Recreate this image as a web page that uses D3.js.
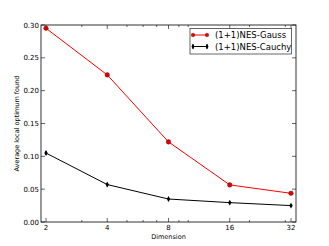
<!DOCTYPE html>
<html><head><meta charset="utf-8">
<script src="https://cdn.jsdelivr.net/npm/d3@7"></script>
<style>body{margin:0;background:#fff}svg{display:block;font-family:"DejaVu Sans",sans-serif}</style>
</head><body><svg id="c" width="329" height="246"></svg>
<script>
const dims = [2, 4, 8, 16, 32];
const gauss = [0.295, 0.224, 0.122, 0.0565, 0.0437];
const cauchy = [0.105, 0.057, 0.035, 0.0295, 0.025];
const cauchyErr = [0.003, 0.003, 0.002, 0.002, 0.002];
const yTicks = [0, 0.05, 0.10, 0.15, 0.20, 0.25, 0.30];
const xMinor = [3, 5, 6, 7, 9, 10, 20, 30];
const seriesNames = ["(1+1)NES-Gauss", "(1+1)NES-Cauchy"];

const L = 41, R = 296, T = 25, B = 222;
const pad = 5 / 61.25;
const x = d3.scaleLog().base(2).domain([Math.pow(2, 1 - pad), Math.pow(2, 5 + pad)]).range([L, R]);
const y = d3.scaleLinear().domain([0, 0.30]).range([B, T]);
const svg = d3.select("#c");

// ticks (inside, both sides)
const g = svg.append("g").attr("stroke", "#000").attr("stroke-width", 0.6);
dims.forEach(d => {
  g.append("line").attr("x1", x(d)).attr("x2", x(d)).attr("y1", B).attr("y2", B - 4);
  g.append("line").attr("x1", x(d)).attr("x2", x(d)).attr("y1", T).attr("y2", T + 4);
});
xMinor.forEach(d => {
  g.append("line").attr("x1", x(d)).attr("x2", x(d)).attr("y1", B).attr("y2", B - 2);
  g.append("line").attr("x1", x(d)).attr("x2", x(d)).attr("y1", T).attr("y2", T + 2);
});
yTicks.forEach(v => {
  g.append("line").attr("x1", L).attr("x2", L + 4).attr("y1", y(v)).attr("y2", y(v));
  g.append("line").attr("x1", R).attr("x2", R - 4).attr("y1", y(v)).attr("y2", y(v));
});

svg.append("g").selectAll("text").data(dims).join("text")
  .attr("x", d => x(d)).attr("y", 230).attr("text-anchor", "middle")
  .attr("font-size", 7).text(d => d);
svg.append("g").selectAll("text").data(yTicks).join("text")
  .attr("x", L - 2).attr("y", v => y(v) + 2.5).attr("text-anchor", "end")
  .attr("font-size", 7).text(v => v.toFixed(2));

svg.append("text").attr("x", (L + R) / 2).attr("y", 238.5).attr("text-anchor", "middle")
  .attr("font-size", 6.5).text("Dimension");
svg.append("text").attr("transform", `translate(19,${(T + B) / 2}) rotate(-90)`)
  .attr("text-anchor", "middle").attr("font-size", 6.5).text("Average local optimum found");

const line = d3.line().x((d, i) => x(dims[i])).y(d => y(d));
// Cauchy
svg.append("path").datum(cauchy).attr("d", line).attr("fill", "none").attr("stroke", "#000").attr("stroke-width", 1);
cauchy.forEach((v, i) => {
  svg.append("line").attr("x1", x(dims[i])).attr("x2", x(dims[i]))
    .attr("y1", y(v - cauchyErr[i])).attr("y2", y(v + cauchyErr[i])).attr("stroke", "#000").attr("stroke-width", 1);
  svg.append("path").attr("d", d3.symbol(d3.symbolDiamond, 10)())
    .attr("transform", `translate(${x(dims[i])},${y(v)})`).attr("fill", "#000");
});
// Gauss
svg.append("path").datum(gauss).attr("d", line).attr("fill", "none").attr("stroke", "#ff0000").attr("stroke-width", 1);
gauss.forEach((v, i) => {
  svg.append("circle").attr("cx", x(dims[i])).attr("cy", y(v)).attr("r", 2.3)
    .attr("fill", "#e00000").attr("stroke", "#600").attr("stroke-width", 0.4);
});

// frame
svg.append("rect").attr("x", L).attr("y", T).attr("width", R - L).attr("height", B - T)
  .attr("fill", "none").attr("stroke", "#000").attr("stroke-width", 0.8);

// legend
const lg = svg.append("g");
lg.append("rect").attr("x", 190).attr("y", 28.5).attr("width", 101.5).attr("height", 25.5)
  .attr("fill", "#fff").attr("stroke", "#000").attr("stroke-width", 0.6);
[0, 1].forEach(k => {
  const yy = k === 0 ? 35 : 46.5;
  const col = k === 0 ? "#ff0000" : "#000";
  lg.append("line").attr("x1", 193).attr("x2", 207).attr("y1", yy).attr("y2", yy).attr("stroke", col).attr("stroke-width", 1);
  [193, 207].forEach(px => {
    if (k === 0) lg.append("circle").attr("cx", px).attr("cy", yy).attr("r", 1.8).attr("fill", "#e00000").attr("stroke", "#600").attr("stroke-width", 0.4);
    else {
      lg.append("line").attr("x1", px).attr("x2", px).attr("y1", yy - 2.5).attr("y2", yy + 2.5).attr("stroke", "#000");
      lg.append("path").attr("d", d3.symbol(d3.symbolDiamond, 8)()).attr("transform", `translate(${px},${yy})`);
    }
  });
  lg.append("text").attr("x", 215).attr("y", yy + 3).attr("font-size", 8.5).text(seriesNames[k]);
});
</script></body></html>
